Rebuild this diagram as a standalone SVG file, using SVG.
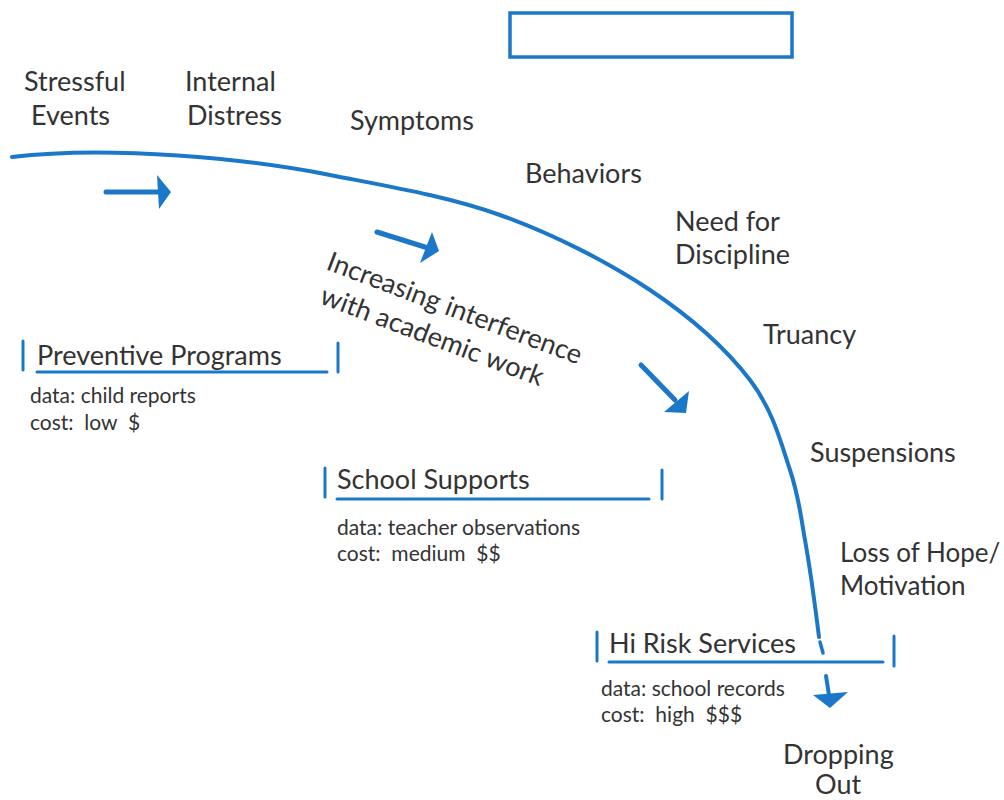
<svg xmlns="http://www.w3.org/2000/svg" width="1004" height="800" viewBox="0 0 1004 800">
<style>
.lbl{font-family:Lato,"Liberation Sans",sans-serif;font-size:27px;fill:#333333}
.sm{font-family:Lato,"Liberation Sans",sans-serif;font-size:21px;fill:#333333}
.blue{stroke:#1b78c9;fill:none;stroke-linecap:round}
.head{fill:#1b78c9;stroke:none}
</style>
<rect width="1004" height="800" fill="#ffffff"/>
<g id="title-box"><rect x="510" y="13" width="282" height="44" fill="#ffffff" stroke="#1b78c9" stroke-width="3.5"/></g>
<g id="connectors">
<path class="blue" stroke-width="4" d="M12,157 C110,145 250,159 330,175 C386,186 447,196 500,215 C553,234 608,262 650,290 C692,318 727,350 750,380 C773,410 781,443 790,470 C799,497 800,512 805,540 C810,568 817,621 819,637"/>
<line class="blue" stroke-width="3.5" x1="820" y1="642" x2="823" y2="653"/>
<line class="blue" stroke-width="4" x1="826" y1="676" x2="829" y2="695"/>
<polygon class="head" points="813,695 848,692 830,708"/>
<line class="blue" stroke-width="5" x1="106" y1="192" x2="160" y2="192"/>
<polygon class="head" points="157,175 171,192 159,209"/>
<line class="blue" stroke-width="5" x1="377" y1="232" x2="428" y2="248"/>
<polygon class="head" points="432,232 439,251 420,263"/>
<line class="blue" stroke-width="5" x1="641" y1="365" x2="675" y2="400"/>
<polygon class="head" points="689,391 686,413 664,412"/>
</g>
<g id="stage-stressful"><text class="lbl" x="24" y="91">Stressful</text><text class="lbl" x="31" y="125">Events</text></g>
<g id="stage-internal"><text class="lbl" x="185" y="91">Internal</text><text class="lbl" x="187" y="125">Distress</text></g>
<g id="stage-symptoms"><text class="lbl" x="350" y="130">Symptoms</text></g>
<g id="stage-behaviors"><text class="lbl" x="525" y="183">Behaviors</text></g>
<g id="stage-discipline"><text class="lbl" x="675" y="231">Need for</text><text class="lbl" x="675" y="264">Discipline</text></g>
<g id="stage-truancy"><text class="lbl" x="763" y="344">Truancy</text></g>
<g id="stage-suspensions"><text class="lbl" x="810" y="462">Suspensions</text></g>
<g id="stage-hope"><text class="lbl" x="840" y="562" style="font-size:26px">Loss of Hope/</text><text class="lbl" x="840" y="595" style="font-size:26px">Motivation</text></g>
<g id="stage-dropping"><text class="lbl" x="783" y="764">Dropping</text><text class="lbl" x="815" y="794">Out</text></g>
<g id="interference-label" transform="translate(325,269) rotate(20.7)"><text class="lbl" x="0" y="0">Increasing interference</text><text class="lbl" x="6" y="34">with academic work</text></g>
<g id="preventive-programs">
<line class="blue" stroke-width="3" x1="23" y1="341" x2="23" y2="370"/>
<line class="blue" stroke-width="3" x1="338" y1="343" x2="338" y2="372"/>
<line class="blue" stroke-width="3" x1="37" y1="372" x2="327" y2="372"/>
<text class="lbl" x="37" y="365">Preventive Programs</text>
<text class="sm" x="30" y="403">data: child reports</text>
<text class="sm" x="30" y="430" xml:space="preserve">cost:  low  $</text>
</g>
<g id="school-supports">
<line class="blue" stroke-width="3" x1="325" y1="468" x2="325" y2="497"/>
<line class="blue" stroke-width="3" x1="662" y1="470" x2="662" y2="499"/>
<line class="blue" stroke-width="3" x1="337" y1="499" x2="649" y2="499"/>
<text class="lbl" x="337" y="489">School Supports</text>
<text class="sm" x="337" y="535">data: teacher observations</text>
<text class="sm" x="337" y="561" xml:space="preserve">cost:  medium  $$</text>
</g>
<g id="hi-risk-services">
<line class="blue" stroke-width="3" x1="597" y1="632" x2="597" y2="661"/>
<line class="blue" stroke-width="3" x1="894" y1="636" x2="894" y2="666"/>
<line class="blue" stroke-width="3" x1="609" y1="662" x2="883" y2="662"/>
<text class="lbl" x="609" y="653">Hi Risk Services</text>
<text class="sm" x="601" y="696">data: school records</text>
<text class="sm" x="601" y="722" xml:space="preserve">cost:  high  $$$</text>
</g>
</svg>
